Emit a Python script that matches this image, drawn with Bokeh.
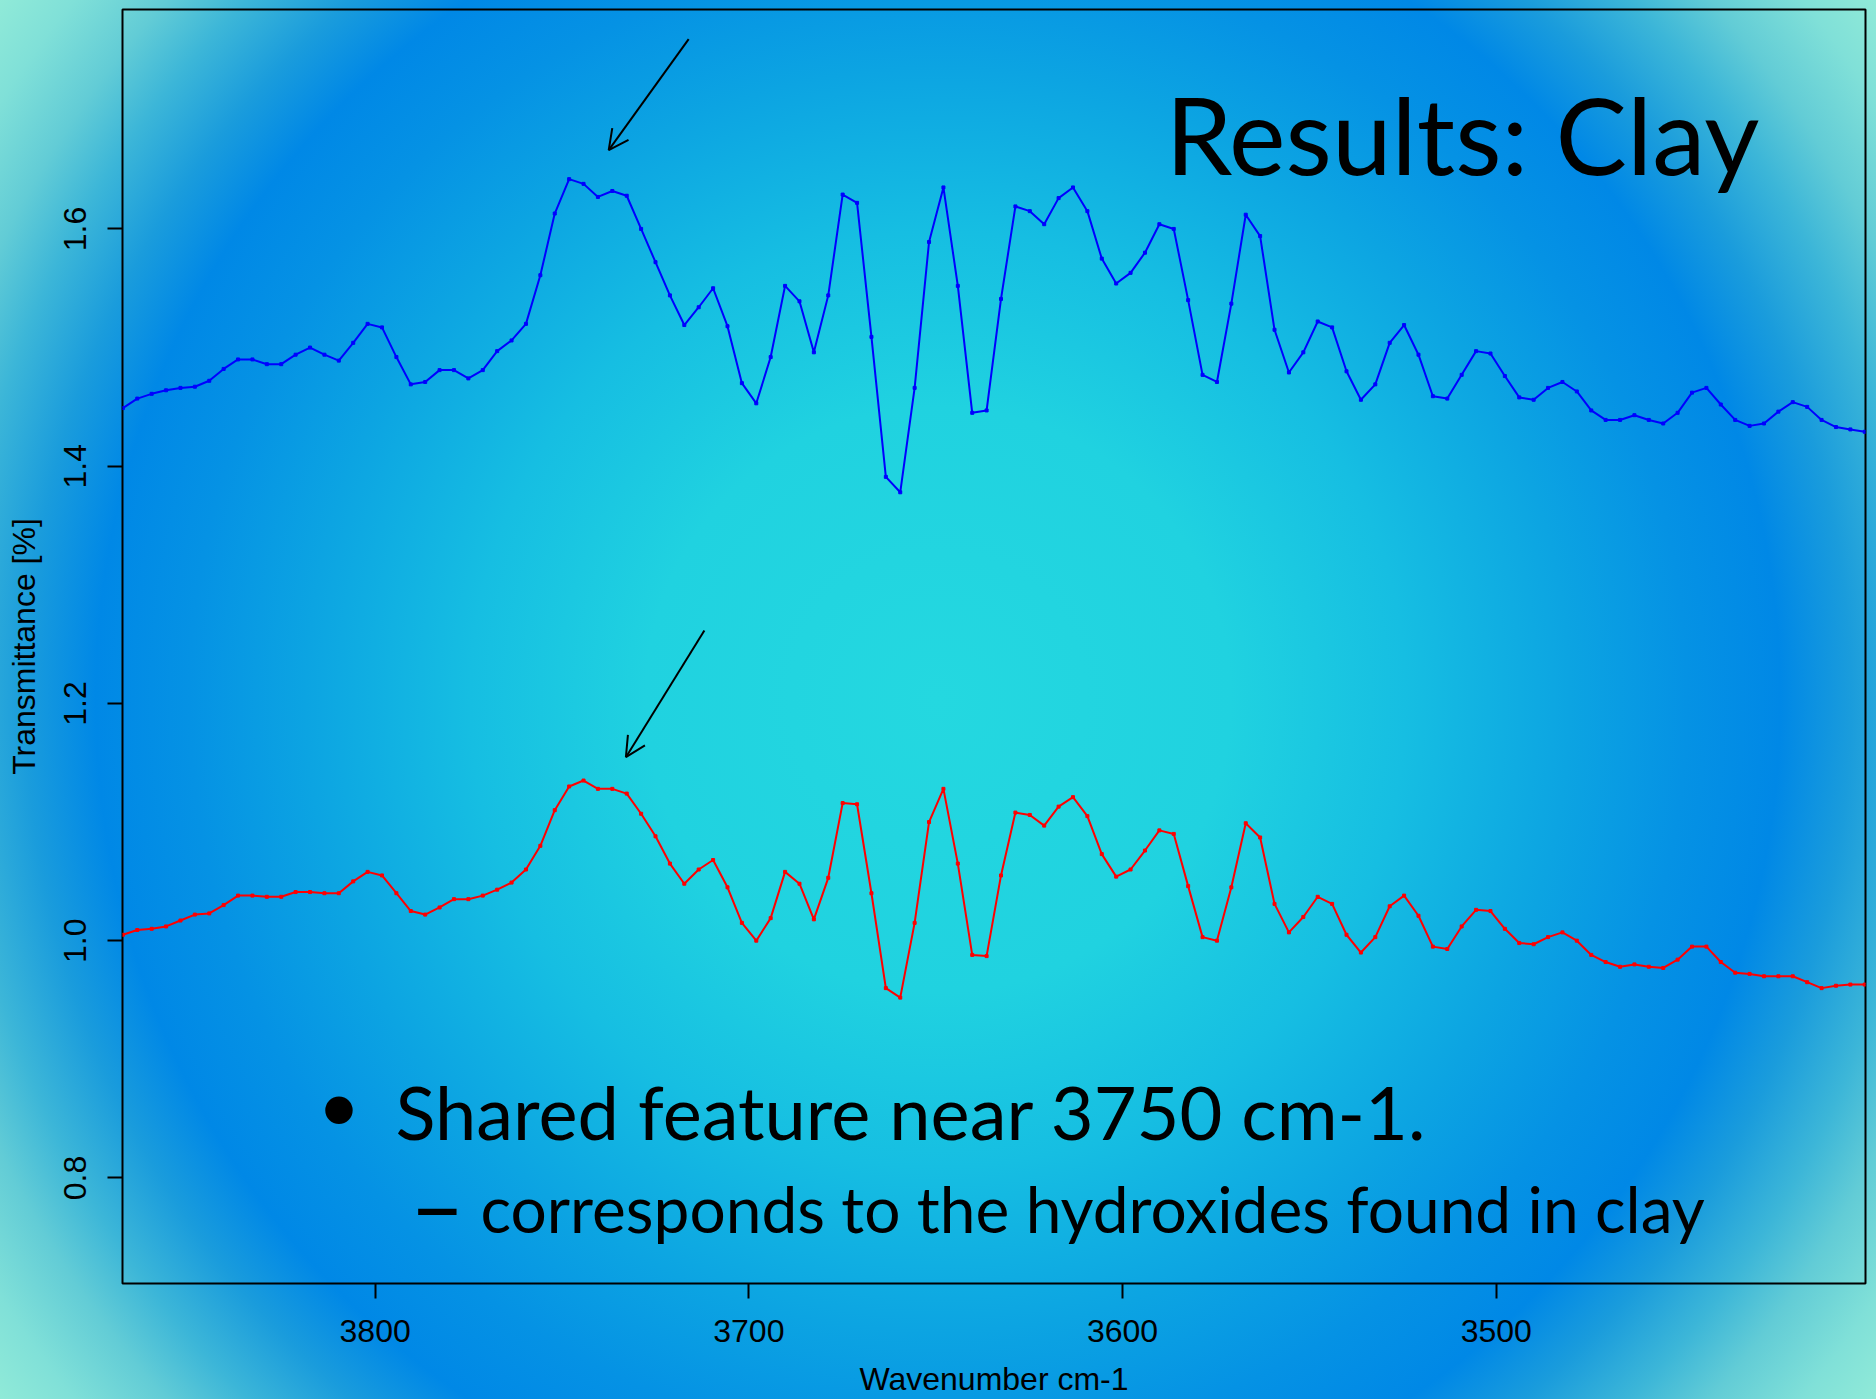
import numpy as np
from bokeh.plotting import figure
from bokeh.models import Range1d, FixedTicker, Label, Arrow, OpenHead, ColumnDataSource
from bokeh.embed import file_html
from bokeh.resources import INLINE

# ---------------- data ----------------
WN_FIRST = 3867.5   # first sampled wavenumber (cm-1)
WN_LAST = 3401.4    # last sampled wavenumber (cm-1)

blue_spectrum = [
    1.449, 1.457, 1.461, 1.464, 1.466, 1.467, 1.472, 1.482, 1.490, 1.490,
    1.486, 1.486, 1.494, 1.500, 1.494, 1.489, 1.504, 1.520, 1.517, 1.492,
    1.469, 1.471, 1.481, 1.481, 1.474, 1.481, 1.497, 1.506, 1.520, 1.561,
    1.613, 1.642, 1.638, 1.627, 1.632, 1.628, 1.600, 1.572, 1.544, 1.519,
    1.534, 1.550, 1.518, 1.470, 1.453, 1.492, 1.552, 1.539, 1.496, 1.544,
    1.629, 1.622, 1.509, 1.391, 1.378, 1.466, 1.589, 1.635, 1.552, 1.445,
    1.447, 1.541, 1.619, 1.615, 1.604, 1.626, 1.635, 1.615, 1.575, 1.554,
    1.563, 1.580, 1.604, 1.600, 1.540, 1.477, 1.471, 1.537, 1.612, 1.594,
    1.515, 1.479, 1.496, 1.522, 1.517, 1.480, 1.456, 1.469, 1.504, 1.519,
    1.494, 1.459, 1.457, 1.477, 1.497, 1.495, 1.476, 1.458, 1.456, 1.466,
    1.471, 1.463, 1.447, 1.439, 1.439, 1.443, 1.439, 1.436, 1.445, 1.462,
    1.466, 1.452, 1.439, 1.434, 1.436, 1.446, 1.454, 1.450, 1.439, 1.433,
    1.431, 1.429,
]

red_spectrum = [
    1.005, 1.009, 1.010, 1.012, 1.017, 1.022, 1.023, 1.030, 1.038, 1.038,
    1.037, 1.037, 1.041, 1.041, 1.040, 1.040, 1.050, 1.058, 1.055, 1.040,
    1.025, 1.022, 1.028, 1.035, 1.035, 1.038, 1.043, 1.049, 1.060, 1.080,
    1.110, 1.130, 1.135, 1.128, 1.128, 1.124, 1.107, 1.088, 1.065, 1.048,
    1.060, 1.068, 1.045, 1.015, 1.000, 1.019, 1.058, 1.048, 1.018, 1.053,
    1.116, 1.115, 1.040, 0.960, 0.952, 1.015, 1.100, 1.128, 1.065, 0.988,
    0.987, 1.055, 1.108, 1.106, 1.097, 1.113, 1.121, 1.105, 1.073, 1.054,
    1.060, 1.076, 1.093, 1.090, 1.046, 1.003, 1.000, 1.045, 1.099, 1.087,
    1.031, 1.007, 1.020, 1.037, 1.031, 1.005, 0.990, 1.003, 1.029, 1.038,
    1.021, 0.995, 0.993, 1.012, 1.026, 1.025, 1.010, 0.998, 0.997, 1.003,
    1.007, 1.000, 0.988, 0.982, 0.978, 0.980, 0.978, 0.977, 0.984, 0.995,
    0.995, 0.982, 0.973, 0.972, 0.970, 0.970, 0.970, 0.965, 0.960, 0.962,
    0.963, 0.963,
]

x_ticks = [3800, 3700, 3600, 3500]
x_tick_labels = ["3800", "3700", "3600", "3500"]
y_ticks = [0.8, 1.0, 1.2, 1.4, 1.6]
y_tick_labels = ["0.8", "1.0", "1.2", "1.4", "1.6"]

# annotation arrows (data coordinates)
arrow_x_start = [3716.1, 3711.9]
arrow_y_start = [1.760, 1.2615]
arrow_x_end = [3737.5, 3732.9]
arrow_y_end = [1.6664, 1.1547]

title_text = "Results: Clay"
bullet_text = "Shared feature near 3750 cm-1."
sub_text = "corresponds to the hydroxides found in clay"

# ---------------- figure ----------------
wavenumber = np.linspace(WN_FIRST, WN_LAST, len(blue_spectrum))
src = ColumnDataSource(dict(wn=wavenumber, blue=blue_spectrum, red=red_spectrum))

bg = ("radial-gradient(circle farthest-corner at 50% 50%, "
      "#24d8e0 0%, #20d2e0 25%, #16bee2 40%, #0ca4e2 54%, #0592e4 64%, "
      "#0088e6 72%, #1a9cdc 78%, #3cb6d8 84%, #62ccd6 89%, #80e0d8 95%, #90ead8 100%)")

p = figure(width=1876, height=1399,
           x_range=Range1d(3867.6, 3401.2), y_range=Range1d(0.711, 1.785),
           output_backend="svg", toolbar_location=None,
           min_border_left=122, min_border_right=11,
           min_border_top=9, min_border_bottom=114,
           background_fill_color=None, border_fill_color=None,
           outline_line_color="black", outline_line_width=2,
           styles={"background": bg})
p.grid.visible = False

AX_FONT = "Liberation Sans"
for ax in (p.xaxis[0], p.yaxis[0]):
    ax.minor_tick_line_color = None
    ax.major_tick_out = 15
    ax.major_tick_in = 0
    ax.major_tick_line_width = 2
    ax.major_tick_line_color = "black"
    ax.axis_line_color = None
    ax.major_label_text_font = AX_FONT
    ax.major_label_text_font_size = "32px"
    ax.major_label_text_color = "black"
    ax.axis_label_text_font = AX_FONT
    ax.axis_label_text_font_size = "32px"
    ax.axis_label_text_font_style = "normal"
    ax.axis_label_text_color = "black"

p.xaxis.ticker = FixedTicker(ticks=x_ticks)
p.xaxis.major_label_overrides = dict(zip(x_ticks, x_tick_labels))
p.xaxis.axis_label = "Wavenumber cm-1"
p.xaxis.major_label_standoff = 21
p.xaxis.axis_label_standoff = 16

p.yaxis.ticker = FixedTicker(ticks=y_ticks)
p.yaxis.major_label_overrides = dict(zip(y_ticks, y_tick_labels))
p.yaxis.major_label_orientation = "parallel"
p.yaxis.axis_label = "Transmittance [%]"
p.yaxis.major_label_standoff = 21
p.yaxis.axis_label_standoff = 20

p.line("wn", "blue", source=src, line_color="#0000ff", line_width=2)
p.scatter("wn", "blue", source=src, marker="square", size=3, color="#0000ff")
p.line("wn", "red", source=src, line_color="#ff0000", line_width=2)
p.scatter("wn", "red", source=src, marker="square", size=3, color="#ff0000")

for xs, ys, xe, ye in zip(arrow_x_start, arrow_y_start, arrow_x_end, arrow_y_end):
    p.add_layout(Arrow(x_start=xs, y_start=ys, x_end=xe, y_end=ye,
                       line_color="black", line_width=2,
                       end=OpenHead(size=20, line_color="black", line_width=2)))

SLIDE_FONT = "Lato"
p.add_layout(Label(x=1043, y=1150, x_units="screen", y_units="screen",
                   text=title_text, text_font=SLIDE_FONT, text_font_size="107px",
                   text_color="black", text_baseline="alphabetic"))
p.add_layout(Label(x=195, y=180, x_units="screen", y_units="screen",
                   text="\u2022", text_font=SLIDE_FONT, text_font_size="74px",
                   text_color="black", text_baseline="alphabetic"))
p.add_layout(Label(x=273, y=172, x_units="screen", y_units="screen",
                   text=bullet_text, text_font=SLIDE_FONT, text_font_size="74px",
                   text_color="black", text_baseline="alphabetic"))
p.add_layout(Label(x=287, y=80, x_units="screen", y_units="screen",
                   text="\u2013", text_font=SLIDE_FONT, text_font_size="96px",
                   text_color="black", text_baseline="alphabetic"))
p.add_layout(Label(x=358, y=75, x_units="screen", y_units="screen",
                   text=sub_text, text_font=SLIDE_FONT, text_font_size="64px",
                   text_color="black", text_baseline="alphabetic"))

open("out.html", "w").write(file_html(p, INLINE))
